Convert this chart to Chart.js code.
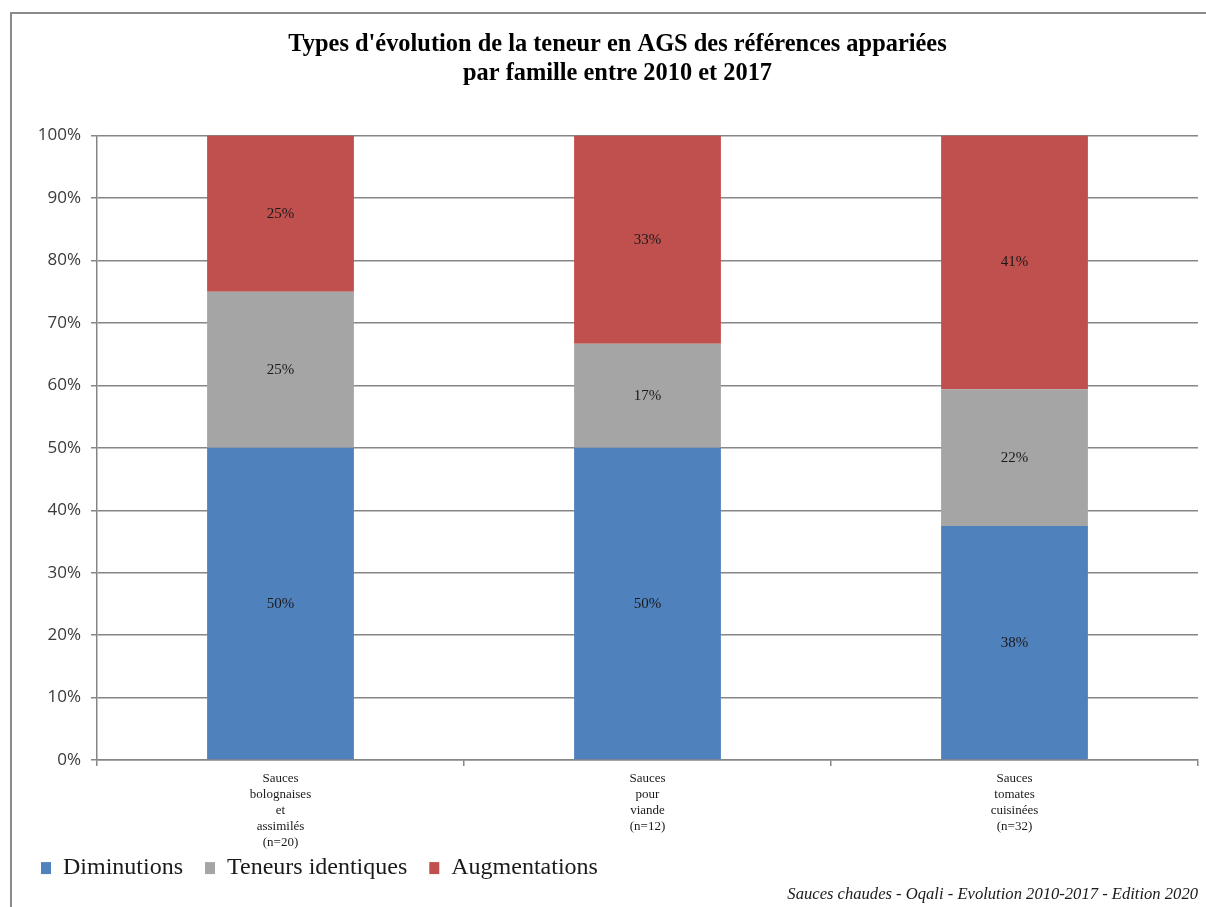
<!DOCTYPE html>
<html>
<head>
  <title>Types d'évolution AGS</title>
  <script src="https://cdn.jsdelivr.net/npm/chart.js"></script>
  <style>
    html, body { margin: 0; padding: 0; background: #fff; }
    #frame {
      position: absolute; left: 10px; top: 12px;
      width: 1300px; height: 1000px;
      border-top: 2px solid #8a8a8a; border-left: 2px solid #8a8a8a;
    }
    #wrap { position: absolute; left: 0; top: 0; width: 1206px; height: 907px; }
  </style>
</head>
<body>
  <div id="frame"></div>
  <div id="wrap"><canvas id="c"></canvas></div>
  <script>
    const categories = [
      ['Sauces', 'bolognaises', 'et', 'assimilés', '(n=20)'],
      ['Sauces', 'pour', 'viande', '(n=12)'],
      ['Sauces', 'tomates', 'cuisinées', '(n=32)']
    ];
    const diminutions = [50, 50, 37.5];
    const identiques = [25, 16.67, 21.875];
    const augmentations = [25, 33.33, 40.625];
    const yTicks = ['0%', '10%', '20%', '30%', '40%', '50%', '60%', '70%', '80%', '90%', '100%'];

    const serif = "'Liberation Serif', 'DejaVu Serif', serif";
    const gridColor = '#868686';

    const barLabels = {
      id: 'barLabels',
      afterDatasetsDraw(chart) {
        const ctx = chart.ctx;
        ctx.save();
        ctx.font = '15px ' + serif;
        ctx.fillStyle = '#1a1a1a';
        ctx.textAlign = 'center';
        ctx.textBaseline = 'middle';
        chart.data.datasets.forEach((ds, i) => {
          chart.getDatasetMeta(i).data.forEach((bar, j) => {
            const p = bar.getProps(['x', 'y', 'base'], true);
            ctx.fillText(Math.round(ds.data[j]) + '%', p.x, (p.y + p.base) / 2);
          });
        });
        ctx.restore();
      }
    };

    new Chart(document.getElementById('c'), {
      type: 'bar',
      data: {
        labels: categories,
        datasets: [
          { label: 'Diminutions', data: diminutions, backgroundColor: '#4F81BD' },
          { label: 'Teneurs identiques', data: identiques, backgroundColor: '#A5A5A5' },
          { label: 'Augmentations', data: augmentations, backgroundColor: '#C0504D' }
        ]
      },
      options: {
        responsive: true,
        maintainAspectRatio: false,
        animation: false,
        datasets: { bar: { categoryPercentage: 1, barPercentage: 0.4 } },
        layout: { padding: { left: 37, right: 8, top: 0, bottom: 2 } },
        plugins: {
          title: {
            display: true,
            text: ["Types d'évolution de la teneur en AGS des références appariées", 'par famille entre 2010 et 2017'],
            font: { family: serif, size: 24.4, weight: 'bold' },
            color: '#000',
            padding: { top: 30, bottom: 47 },
            lineHeight: 1.15
          },
          legend: {
            position: 'bottom',
            align: 'start',
            labels: {
              font: { family: serif, size: 24, lineHeight: 1 },
              color: '#1a1a1a',
              boxWidth: 10,
              boxHeight: 12,
              padding: 4,
              generateLabels: chart => {
                const items = Chart.defaults.plugins.legend.labels.generateLabels(chart);
                items.forEach(it => { it.text = it.text + '   '; });
                return items;
              }
            }
          },
          subtitle: {
            display: true,
            position: 'bottom',
            align: 'end',
            text: 'Sauces chaudes - Oqali - Evolution 2010-2017 - Edition 2020',
            font: { family: serif, size: 16.6, style: 'italic' },
            color: '#1a1a1a',
            padding: { top: -5, bottom: 0 }
          },
          tooltip: { enabled: false }
        },
        scales: {
          x: {
            stacked: true,
            grid: { drawOnChartArea: false, drawTicks: true, tickLength: 6, color: gridColor, lineWidth: 1.5 },
            border: { color: gridColor, width: 1.5 },
            ticks: { font: { family: serif, size: 13, lineHeight: 1.23 }, color: '#1a1a1a', maxRotation: 0, autoSkip: false, padding: 5 },
            afterFit: s => { s.height = 92; }
          },
          y: {
            stacked: true,
            min: 0,
            max: 100,
            grid: { color: gridColor, lineWidth: 1.5, tickLength: 6 },
            border: { color: gridColor, width: 1.5 },
            ticks: {
              stepSize: 10,
              font: { family: "'Open Sans', 'Liberation Sans', sans-serif", size: 17 },
              color: '#3a3a3a',
              padding: 10,
              callback: (v, i) => yTicks[i]
            },
            afterFit: s => { s.width = 60; }
          }
        }
      },
      plugins: [barLabels]
    });
  </script>
</body>
</html>
